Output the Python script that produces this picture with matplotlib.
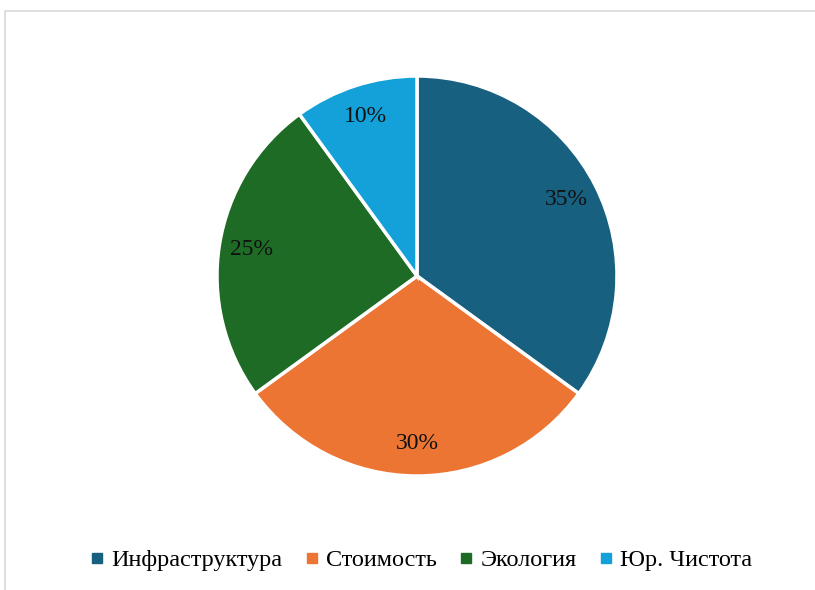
import matplotlib.pyplot as plt
from matplotlib.patches import Rectangle
from matplotlib.lines import Line2D

# данные диаграммы
labels = ['Инфраструктура', 'Стоимость', 'Экология', 'Юр. Чистота']
shares = [35, 30, 25, 10]
colors = ['#17607F', '#EC7533', '#1D6B25', '#14A0D8']

plt.rcParams['font.family'] = ['Liberation Serif', 'DejaVu Serif']

fig = plt.figure(figsize=(8.15, 5.9), dpi=100)

# серая рамка как у области диаграммы
fig.add_artist(Rectangle((5 / 815, -0.01), 1.0, 1 - 11 / 590 + 0.01,
                         transform=fig.transFigure, fill=False,
                         edgecolor='#D9D9D9', linewidth=1.2))

ax = fig.add_axes([217 / 815, 1 - 476 / 590, 400 / 815, 400 / 590])
wedges, texts, autotexts = ax.pie(
    shares, colors=colors, startangle=90, counterclock=False,
    autopct='%d%%', pctdistance=0.84,
    wedgeprops=dict(edgecolor='white', linewidth=2.5),
    textprops=dict(fontsize=17, color='#111111'))
ax.set_xlim(-1.0, 1.0)
ax.set_ylim(-1.0, 1.0)
ax.set_aspect('equal')

handles = [Line2D([], [], marker='s', linestyle='', markersize=6.5,
                  color=c) for c in colors]
fig.legend(handles, labels, loc='center', bbox_to_anchor=(0.517, 1 - 560 / 590),
           ncol=4, frameon=False, fontsize=17.5, handletextpad=0.3,
           columnspacing=0.95, handlelength=0.55)

fig.savefig('out.png', dpi=100)
